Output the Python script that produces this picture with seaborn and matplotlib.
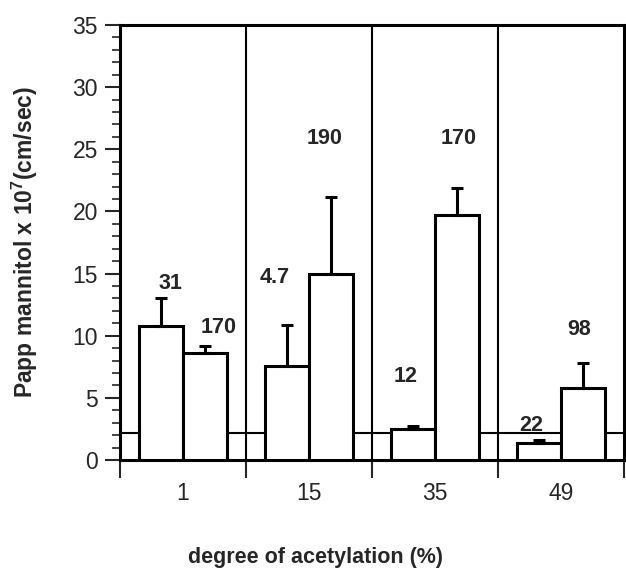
import matplotlib
matplotlib.use("Agg")
import matplotlib.pyplot as plt
import seaborn as sns
import pandas as pd
import numpy as np
from matplotlib.ticker import MultipleLocator, FixedLocator

# ---- data ----
groups = ["1", "15", "35", "49"]
series = ["A", "B"]
values_a = [10.8, 7.6, 2.5, 1.4]
values_b = [8.6, 15.0, 19.7, 5.8]
err_a = [2.2, 3.3, 0.2, 0.2]
err_b = [0.6, 6.2, 2.2, 2.0]
label_text = ["31", "170", "4.7", "190", "12", "170", "22", "98"]
label_x = [-0.10, 0.28, 0.73, 1.12, 1.77, 2.19, 2.76, 3.14]
label_y = [14.2, 10.7, 14.7, 25.9, 6.7, 25.9, 2.8, 10.5]
ref_level = 2.2
y_ticks = [0, 5, 10, 15, 20, 25, 30, 35]

sns.set_style("ticks")
plt.rcParams["font.family"] = ["Liberation Sans", "DejaVu Sans"]
plt.rcParams["mathtext.fontset"] = "custom"
plt.rcParams["mathtext.rm"] = "Liberation Sans"
plt.rcParams["mathtext.bf"] = "Liberation Sans:bold"

df = pd.DataFrame({
    "group": groups * 2,
    "series": [series[0]] * 4 + [series[1]] * 4,
    "value": values_a + values_b,
    "err": err_a + err_b,
})

fig = plt.figure(figsize=(6.26, 5.73), dpi=100)
ax = fig.add_axes([120 / 626, 1 - 460 / 573, 504 / 626, 435 / 573])

sns.barplot(data=df, x="group", y="value", hue="series", order=groups,
            hue_order=series, palette=["white", "white"], edgecolor="black",
            linewidth=2.2, width=0.7, errorbar=None, legend=False, ax=ax,
            zorder=3)

# error bars (upward only)
for p in ax.patches:
    h = p.get_height()
    if h <= 0:
        continue
    xc = p.get_x() + p.get_width() / 2
    match = df[np.isclose(df["value"], h)]
    e = float(match["err"].iloc[0])
    ax.errorbar([xc], [h], yerr=[[0], [e]], fmt="none", ecolor="black",
                elinewidth=2.2, capsize=4, capthick=2.2, zorder=4)

# dividers and reference line
for xv in [0.5, 1.5, 2.5]:
    ax.axvline(xv, color="black", lw=1.5, zorder=2)
ax.axhline(ref_level, color="black", lw=1.5, zorder=2)

for t, x, y in zip(label_text, label_x, label_y):
    ax.text(x, y, t, ha="center", va="center", fontsize=15.5,
            fontweight="bold", zorder=5)

ax.set_xlim(-0.5, 3.5)
ax.set_ylim(0, 35)
ax.set_yticks(y_ticks)
ax.yaxis.set_minor_locator(MultipleLocator(1))
ax.tick_params(axis="y", which="major", length=11, width=1.5,
               labelsize=16.5, pad=5, direction="out")
ax.tick_params(axis="y", which="minor", length=6, width=1.2, direction="out")

ax.set_xticks(range(len(groups)))
ax.set_xticklabels(groups)
ax.xaxis.set_minor_locator(FixedLocator([-0.5, 0.5, 1.5, 2.5, 3.5]))
ax.tick_params(axis="x", which="major", length=0, labelsize=16.5, pad=16)
ax.tick_params(axis="x", which="minor", length=13, width=1.5, direction="out")

for s in ax.spines.values():
    s.set_linewidth(2.2)
    s.set_color("black")

ax.set_xlabel("degree of acetylation (%)", fontsize=15.5, fontweight="bold",
              va="center")
ax.xaxis.set_label_coords((316 - 120) / 504, (460 - 557) / 435)
ax.set_ylabel(r"Papp mannitol x 10$^{\mathbf{7}}$(cm/sec)", fontsize=16.5,
              fontweight="bold", va="center")
ax.yaxis.set_label_coords((25 - 120) / 504, 0.5)

fig.savefig("out.png", dpi=100, facecolor="white")
